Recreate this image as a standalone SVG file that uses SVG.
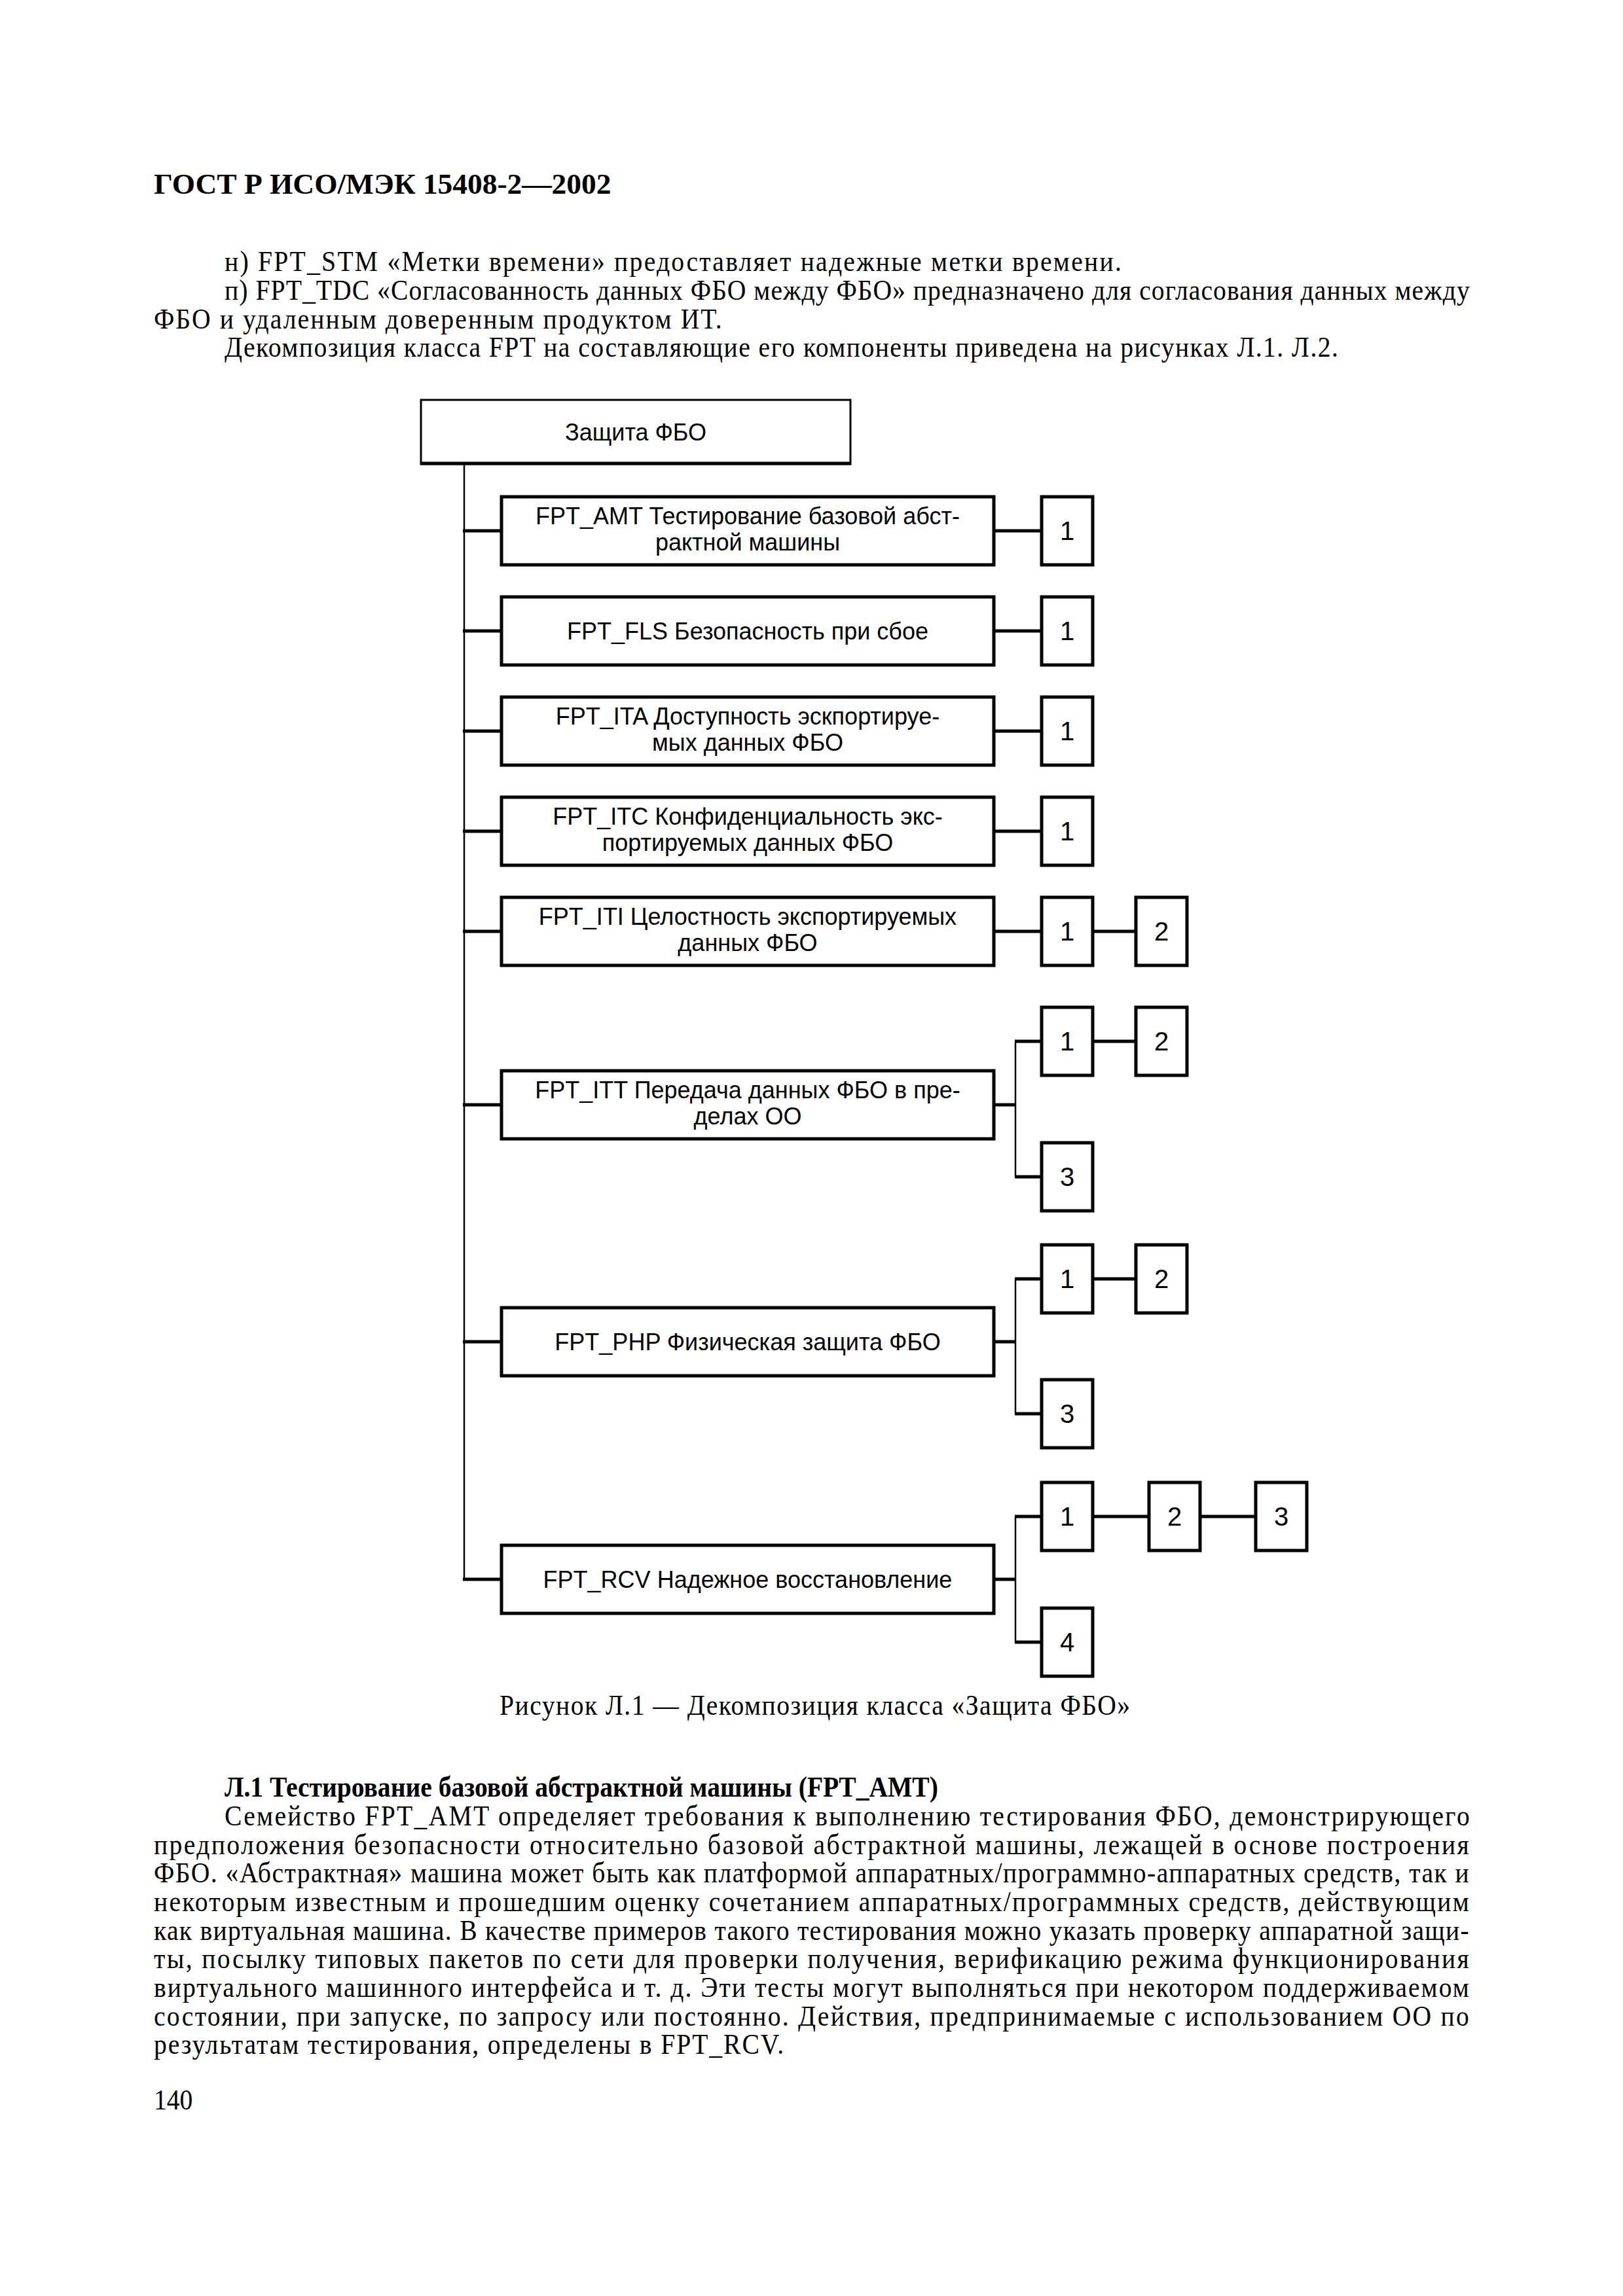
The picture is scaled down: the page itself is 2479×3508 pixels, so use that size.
<svg xmlns="http://www.w3.org/2000/svg" width="2479" height="3508" viewBox="0 0 2479 3508">
<style>
.bg{fill:#fff}
.body{font-family:"Liberation Serif","Times New Roman",serif;font-size:44px;fill:#000}
.bold{font-weight:bold}
.lbl{font-family:"Liberation Sans",Arial,sans-serif;font-size:36px;fill:#000;text-anchor:middle}
.num{font-family:"Liberation Sans",Arial,sans-serif;font-size:40px;fill:#000;text-anchor:middle}
.box{fill:#fff;stroke:#000;stroke-width:5}
.nbox{fill:#fff;stroke:#000;stroke-width:5}
.thin{stroke:#000;stroke-width:2.5;fill:none}
.thick{stroke:#000;stroke-width:5;fill:none}
</style>
<rect class="bg" x="0" y="0" width="2479" height="3508"/>

<g id="page-text" transform="scale(0.9 1)">
<text class="body bold" x="261.1" y="296" font-size="52" textLength="776" lengthAdjust="spacingAndGlyphs">ГОСТ Р ИСО/МЭК 15408-2—2002</text>
<text class="body" x="381.1" y="414" textLength="1522" lengthAdjust="spacing">н) FPT_STM «Метки времени» предоставляет надежные метки времени.</text>
<text class="body" x="381.1" y="458" textLength="2113" lengthAdjust="spacing">п) FPT_TDC «Согласованность данных ФБО между ФБО» предназначено для согласования данных между</text>
<text class="body" x="261.1" y="502" textLength="964" lengthAdjust="spacing">ФБО и удаленным доверенным продуктом ИТ.</text>
<text class="body" x="381.1" y="545" textLength="1890" lengthAdjust="spacing">Декомпозиция класса FPT на составляющие его компоненты приведена на рисунках Л.1. Л.2.</text>

<text class="body" x="847.8" y="2620" textLength="1070" lengthAdjust="spacing">Рисунок Л.1 — Декомпозиция класса «Защита ФБО»</text>

<text class="body bold" x="381.1" y="2745" textLength="1211" lengthAdjust="spacingAndGlyphs">Л.1 Тестирование базовой абстрактной машины (FPT_AMT)</text>
<text class="body" x="381.1" y="2789" textLength="2113" lengthAdjust="spacing">Семейство FPT_AMT определяет требования к выполнению тестирования ФБО, демонстрирующего</text>
<text class="body" x="261.1" y="2833" textLength="2232" lengthAdjust="spacing">предположения безопасности относительно базовой абстрактной машины, лежащей в основе построения</text>
<text class="body" x="261.1" y="2876" textLength="2232" lengthAdjust="spacing">ФБО. «Абстрактная» машина может быть как платформой аппаратных/программно-аппаратных средств, так и</text>
<text class="body" x="261.1" y="2920" textLength="2232" lengthAdjust="spacing">некоторым известным и прошедшим оценку сочетанием аппаратных/программных средств, действующим</text>
<text class="body" x="261.1" y="2964" textLength="2232" lengthAdjust="spacing">как виртуальная машина. В качестве примеров такого тестирования можно указать проверку аппаратной защи-</text>
<text class="body" x="261.1" y="3007" textLength="2232" lengthAdjust="spacing">ты, посылку типовых пакетов по сети для проверки получения, верификацию режима функционирования</text>
<text class="body" x="261.1" y="3051" textLength="2232" lengthAdjust="spacing">виртуального машинного интерфейса и т. д. Эти тесты могут выполняться при некотором поддерживаемом</text>
<text class="body" x="261.1" y="3095" textLength="2232" lengthAdjust="spacing">состоянии, при запуске, по запросу или постоянно. Действия, предпринимаемые с использованием ОО по</text>
<text class="body" x="261.1" y="3138" textLength="1069" lengthAdjust="spacing">результатам тестирования, определены в FPT_RCV.</text>
<text class="body" x="261.1" y="3223">140</text>
</g>

<g id="connectors">
<line class="thin" x1="709" y1="709" x2="709" y2="2413"/>
<line class="thick" x1="707" y1="811" x2="766" y2="811"/>
<line class="thick" x1="707" y1="964" x2="766" y2="964"/>
<line class="thick" x1="707" y1="1117" x2="766" y2="1117"/>
<line class="thick" x1="707" y1="1270" x2="766" y2="1270"/>
<line class="thick" x1="707" y1="1423" x2="766" y2="1423"/>
<line class="thick" x1="707" y1="1688" x2="766" y2="1688"/>
<line class="thick" x1="707" y1="2050" x2="766" y2="2050"/>
<line class="thick" x1="707" y1="2413" x2="766" y2="2413"/>

<line class="thick" x1="1518" y1="811" x2="1591" y2="811"/>
<line class="thick" x1="1518" y1="964" x2="1591" y2="964"/>
<line class="thick" x1="1518" y1="1117" x2="1591" y2="1117"/>
<line class="thick" x1="1518" y1="1270" x2="1591" y2="1270"/>
<line class="thick" x1="1518" y1="1423" x2="1591" y2="1423"/>
<line class="thick" x1="1669" y1="1423" x2="1735" y2="1423"/>

<line class="thick" x1="1518" y1="1688" x2="1551" y2="1688"/>
<line class="thin" x1="1551" y1="1591" x2="1551" y2="1798"/>
<line class="thick" x1="1550" y1="1591" x2="1591" y2="1591"/>
<line class="thick" x1="1550" y1="1798" x2="1591" y2="1798"/>
<line class="thick" x1="1669" y1="1591" x2="1735" y2="1591"/>

<line class="thick" x1="1518" y1="2050" x2="1551" y2="2050"/>
<line class="thin" x1="1551" y1="1954" x2="1551" y2="2160"/>
<line class="thick" x1="1550" y1="1954" x2="1591" y2="1954"/>
<line class="thick" x1="1550" y1="2160" x2="1591" y2="2160"/>
<line class="thick" x1="1669" y1="1954" x2="1735" y2="1954"/>

<line class="thick" x1="1518" y1="2413" x2="1551" y2="2413"/>
<line class="thin" x1="1551" y1="2317" x2="1551" y2="2509"/>
<line class="thick" x1="1550" y1="2317" x2="1591" y2="2317"/>
<line class="thick" x1="1550" y1="2509" x2="1591" y2="2509"/>
<line class="thick" x1="1669" y1="2317" x2="1755" y2="2317"/>
<line class="thick" x1="1833" y1="2317" x2="1918" y2="2317"/>
</g>

<g id="root">
<rect x="643" y="611" width="656" height="98" fill="#fff" stroke="#000" stroke-width="3"/>
<line class="thick" x1="642" y1="708" x2="1300" y2="708"/>
<text class="lbl" x="971" y="673">Защита ФБО</text>
</g>

<g id="fpt-amt">
<rect class="box" x="766" y="759" width="752" height="104"/>
<text class="lbl" x="1142" y="801">FPT_AMT Тестирование базовой абст-</text>
<text class="lbl" x="1142" y="841">рактной машины</text>
</g>
<g id="fpt-amt-1"><rect class="nbox" x="1591" y="759" width="78" height="104"/><text class="num" x="1630" y="825">1</text></g>

<g id="fpt-fls">
<rect class="box" x="766" y="912" width="752" height="104"/>
<text class="lbl" x="1142" y="977">FPT_FLS Безопасность при сбое</text>
</g>
<g id="fpt-fls-1"><rect class="nbox" x="1591" y="912" width="78" height="104"/><text class="num" x="1630" y="978">1</text></g>

<g id="fpt-ita">
<rect class="box" x="766" y="1065" width="752" height="104"/>
<text class="lbl" x="1142" y="1107">FPT_ITA Доступность эскпортируе-</text>
<text class="lbl" x="1142" y="1147">мых данных ФБО</text>
</g>
<g id="fpt-ita-1"><rect class="nbox" x="1591" y="1065" width="78" height="104"/><text class="num" x="1630" y="1131">1</text></g>

<g id="fpt-itc">
<rect class="box" x="766" y="1218" width="752" height="104"/>
<text class="lbl" x="1142" y="1260">FPT_ITC Конфиденциальность экс-</text>
<text class="lbl" x="1142" y="1300">портируемых данных ФБО</text>
</g>
<g id="fpt-itc-1"><rect class="nbox" x="1591" y="1218" width="78" height="104"/><text class="num" x="1630" y="1284">1</text></g>

<g id="fpt-iti">
<rect class="box" x="766" y="1371" width="752" height="104"/>
<text class="lbl" x="1142" y="1413">FPT_ITI Целостность экспортируемых</text>
<text class="lbl" x="1142" y="1453">данных ФБО</text>
</g>
<g id="fpt-iti-1"><rect class="nbox" x="1591" y="1371" width="78" height="104"/><text class="num" x="1630" y="1437">1</text></g>
<g id="fpt-iti-2"><rect class="nbox" x="1735" y="1371" width="78" height="104"/><text class="num" x="1774" y="1437">2</text></g>

<g id="fpt-itt">
<rect class="box" x="766" y="1636" width="752" height="104"/>
<text class="lbl" x="1142" y="1678">FPT_ITT Передача данных ФБО в пре-</text>
<text class="lbl" x="1142" y="1718">делах ОО</text>
</g>
<g id="fpt-itt-1"><rect class="nbox" x="1591" y="1539" width="78" height="104"/><text class="num" x="1630" y="1605">1</text></g>
<g id="fpt-itt-2"><rect class="nbox" x="1735" y="1539" width="78" height="104"/><text class="num" x="1774" y="1605">2</text></g>
<g id="fpt-itt-3"><rect class="nbox" x="1591" y="1746" width="78" height="104"/><text class="num" x="1630" y="1812">3</text></g>

<g id="fpt-php">
<rect class="box" x="766" y="1998" width="752" height="104"/>
<text class="lbl" x="1142" y="2063">FPT_PHP Физическая защита ФБО</text>
</g>
<g id="fpt-php-1"><rect class="nbox" x="1591" y="1902" width="78" height="104"/><text class="num" x="1630" y="1968">1</text></g>
<g id="fpt-php-2"><rect class="nbox" x="1735" y="1902" width="78" height="104"/><text class="num" x="1774" y="1968">2</text></g>
<g id="fpt-php-3"><rect class="nbox" x="1591" y="2108" width="78" height="104"/><text class="num" x="1630" y="2174">3</text></g>

<g id="fpt-rcv">
<rect class="box" x="766" y="2361" width="752" height="104"/>
<text class="lbl" x="1142" y="2426">FPT_RCV Надежное восстановление</text>
</g>
<g id="fpt-rcv-1"><rect class="nbox" x="1591" y="2265" width="78" height="104"/><text class="num" x="1630" y="2331">1</text></g>
<g id="fpt-rcv-2"><rect class="nbox" x="1755" y="2265" width="78" height="104"/><text class="num" x="1794" y="2331">2</text></g>
<g id="fpt-rcv-3"><rect class="nbox" x="1918" y="2265" width="78" height="104"/><text class="num" x="1957" y="2331">3</text></g>
<g id="fpt-rcv-4"><rect class="nbox" x="1591" y="2457" width="78" height="104"/><text class="num" x="1630" y="2523">4</text></g>
</svg>
